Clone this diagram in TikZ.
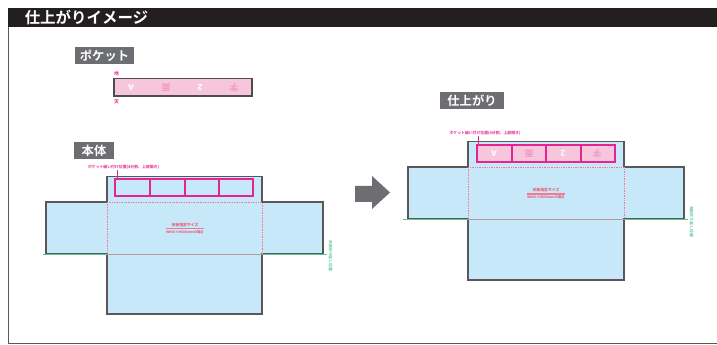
\documentclass[tikz,border=0pt]{standalone}
\usepackage{fontspec}
\setmainfont{Noto Sans CJK JP}[BoldFont={Noto Sans CJK JP Bold}]
\newfontfamily\latinf{Liberation Sans}
\definecolor{skyb}{HTML}{C7E8F9}
\definecolor{pinkf}{HTML}{F6C6DC}
\definecolor{mag}{HTML}{E5248F}
\definecolor{redl}{HTML}{F4788E}
\definecolor{redt}{HTML}{EE4A66}
\definecolor{greent}{HTML}{5CC795}
\definecolor{darkb}{HTML}{231F20}
\definecolor{greyb}{HTML}{6D6E71}
\tikzset{
 x=0.75pt,y=-0.75pt,
 shapeb/.style={fill=skyb,draw=darkb!75,line width=0.8pt,line join=miter},
 capt/.style={fill=greyb,text=white,font=\fontsize{9.2}{10}\selectfont\bfseries,inner sep=0pt,anchor=center},
 tiny1/.style={inner sep=0pt,font=\fontsize{2.9}{3}\selectfont\bfseries},
 tiny2/.style={inner sep=0pt,font=\fontsize{2.5}{3}\selectfont\bfseries},
 pocketb/.style={draw=mag,line width=1.3pt},
 dashr/.style={draw=redl,line width=0.7pt,dash pattern=on 1.1pt off 0.7pt},
 glyphp/.style={inner sep=0pt,rotate=180,font=\fontsize{6.5}{7}\selectfont\bfseries},
}
\begin{document}
\begin{tikzpicture}
\useasboundingbox (0,0) rectangle (717,345);
\fill[white] (0,0) rectangle (717,345);
% frame
\draw[greyb!80!black,line width=0.8pt] (8.5,27) -- (8.5,343.5) -- (717,343.5);
\fill[darkb] (8,8) rectangle (717,27);
\node[inner sep=0pt,anchor=west,text=white,font=\fontsize{11.6}{12}\selectfont\bfseries] (title) at (24.5,17.5) {仕上がりイメージ};
% captions
\node[capt,minimum width=44.3pt,minimum height=12.8pt] (cappocket) at (104.5,55.5) {ポケット};
\node[capt,minimum width=30pt,minimum height=12.8pt] (capbody) at (94,150.5) {本体};
\node[capt,minimum width=48pt,minimum height=12.8pt] (capdone) at (472,100.5) {仕上がり};
% pocket piece
\node[draw=darkb!80,line width=0.8pt,fill=pinkf,minimum width=103.5pt,minimum height=12.8pt,inner sep=0pt] (pocket) at (183,87.5) {};
\node[tiny1,text=mag,font=\fontsize{3.6}{4}\selectfont\bfseries] (chi) at (116.5,73.5) {地};
\node[tiny1,text=mag,font=\fontsize{3.6}{4}\selectfont\bfseries] (ten) at (116.5,101.5) {天};
\node[glyphp,text=white] (pa) at (131,87.5) {\latinf A};
\node[glyphp,text=mag!30!pinkf] (pb) at (166,87.5) {面};
\node[glyphp,text=white] (pc) at (200,87.5) {\latinf 2};
\node[glyphp,text=mag!30!pinkf] (pd) at (234,87.5) {字};
% body
\draw[shapeb] (107,202) -- (107,176.5) -- (262,176.5) -- (262,202) -- (323,202) -- (323,254) -- (262,254) -- (262,314) -- (107,314) -- (107,254) -- (46,254) -- (46,202) -- cycle;
\fill[skyb] (107.6,253.4) rectangle (261.4,254.6);
\coordinate (gl1) at (43,254); \coordinate (gr1) at (327,254);
\draw[greent,line width=0.35pt] (gl1) -- (gr1);
\draw[dashr] (107,202) rectangle (262,254);
\draw[pocketb] (115.3,179.2) rectangle (253.2,196.2);
\draw[pocketb] (150.2,179.2) -- (150.2,196.2) (184.7,179.2) -- (184.7,196.2) (219.2,179.2) -- (219.2,196.2);
\node[tiny1,text=mag] (labela) at (123.5,167.5) {ポケット縫い付け位置(4分割、上部開き)};
\coordinate (lab1) at (117,170);
\coordinate (lab1e) at (117,179);
\draw[mag,line width=0.6pt] (lab1) -- (lab1e);
\node[tiny1,text=redt] (sa) at (185,225) {天板指定サイズ};
\node[tiny2,text=redt] (sb) at (185,231.8) {W900×H600mmの場合};
\coordinate (sl1) at (166,228.3); \coordinate (sr1) at (204,228.3);
\draw[redl,line width=0.9pt] (sl1) -- (sr1);
\node[tiny1,text=greent,rotate=-90] (ga) at (330.5,256) {天板折り返し位置};
% arrow
\fill[greyb] (355,186) -- (372,186) -- (372,176) -- (390,192.5) -- (372,209) -- (372,202) -- (355,202) -- cycle;
% finished
\draw[shapeb] (468,167) -- (468,141.5) -- (624,141.5) -- (624,167) -- (684,167) -- (684,219) -- (624,219) -- (624,280) -- (468,280) -- (468,219) -- (408,219) -- (408,167) -- cycle;
\fill[skyb] (468.6,218.4) rectangle (623.4,219.6);
\coordinate (gl2) at (403,219); \coordinate (gr2) at (688,219);
\draw[greent,line width=0.35pt] (gl2) -- (gr2);
\draw[dashr] (468,167) rectangle (624,219);
\fill[pinkf] (477,145) rectangle (615,162);
\draw[pocketb] (477.2,145.2) rectangle (615.2,162.2);
\draw[pocketb] (511.7,145.2) -- (511.7,162.2) (546.2,145.2) -- (546.2,162.2) (580.7,145.2) -- (580.7,162.2);
\node[glyphp,text=white] (qa) at (494,153.5) {\latinf A};
\node[glyphp,text=mag!30!pinkf] (qb) at (529,153.5) {面};
\node[glyphp,text=white] (qc) at (563,153.5) {\latinf 2};
\node[glyphp,text=mag!30!pinkf] (qd) at (597,153.5) {字};
\node[tiny1,text=mag] (labelb) at (485,133.5) {ポケット縫い付け位置(4分割、上部開き)};
\coordinate (lab2) at (478,136); \coordinate (lab2e) at (478,145);
\draw[mag,line width=0.6pt] (lab2) -- (lab2e);
\node[tiny1,text=redt] (ta) at (546,190.5) {天板指定サイズ};
\node[tiny2,text=redt] (tb) at (546,197.5) {W900×H600mmの場合};
\coordinate (sl2) at (527,194); \coordinate (sr2) at (565,194);
\draw[redl,line width=0.9pt] (sl2) -- (sr2);
\node[tiny1,text=greent,rotate=-90] (gb) at (691.5,221.5) {天板折り返し位置};
\end{tikzpicture}
\end{document}
